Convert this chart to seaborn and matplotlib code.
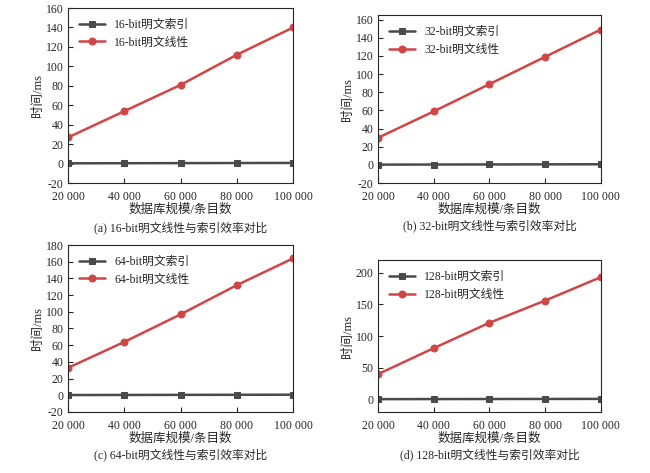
import matplotlib
matplotlib.use("Agg")
import matplotlib.pyplot as plt
import seaborn as sns
import pandas as pd

sizes = [20000, 40000, 60000, 80000, 100000]
size_labels = ["20 000", "40 000", "60 000", "80 000", "100 000"]
bits = ["16", "32", "64", "128"]
linear = {
    "16": [27, 54, 81, 112, 140],
    "32": [30, 59, 89, 119, 149],
    "64": [33, 64, 97, 132, 164],
    "128": [40, 81, 121, 156, 193],
}
index = {
    "16": [0.3, 0.4, 0.5, 0.6, 0.7],
    "32": [0.3, 0.4, 0.5, 0.6, 0.7],
    "64": [0.3, 0.4, 0.5, 0.6, 0.7],
    "128": [0.3, 0.4, 0.5, 0.6, 0.7],
}
ylims = {"16": (-20, 160, 20), "32": (-20, 165, 20), "64": (-20, 180, 20), "128": (-20, 220, 50)}
panel_tags = ["(a)", "(b)", "(c)", "(d)"]
positions = [
    [0.105, 0.613, 0.346, 0.370],
    [0.582, 0.613, 0.342, 0.355],
    [0.105, 0.129, 0.346, 0.353],
    [0.582, 0.129, 0.342, 0.321],
]

sns.set_style("ticks")
plt.rcParams['font.family'] = ['Liberation Serif', 'Noto Sans CJK SC']
plt.rcParams['xtick.direction'] = 'in'
plt.rcParams['ytick.direction'] = 'in'
plt.rcParams['axes.unicode_minus'] = False

fig = plt.figure(figsize=(6.5, 4.73), dpi=100)
for b, tag, pos in zip(bits, panel_tags, positions):
    ax = fig.add_axes(pos)
    df = pd.DataFrame({"size": sizes, "idx": index[b], "lin": linear[b]})
    sns.lineplot(data=df, x="size", y="idx", ax=ax, color="#4a4a4a", marker="s",
                 markersize=5, markeredgecolor="#4a4a4a", linewidth=1.8, label=f"{b}-bit明文索引")
    sns.lineplot(data=df, x="size", y="lin", ax=ax, color="#d04545", marker="o",
                 markersize=5, markeredgecolor="#d04545", linewidth=1.8, label=f"{b}-bit明文线性")
    lo, hi, step = ylims[b]
    ax.set_ylim(lo, hi)
    ax.set_yticks(range(lo if step == 20 else 0, int(hi) + 1, step))
    ax.set_xlim(20000, 100000)
    ax.set_xticks(sizes)
    ax.set_xticklabels(size_labels)
    ax.tick_params(labelsize=8.5)
    ax.tick_params(axis='x', pad=6)
    ax.set_xlabel("数据库规模/条目数", fontsize=9, labelpad=0)
    ax.set_ylabel("时间/ms", fontsize=9, labelpad=1)
    ax.legend(loc="upper left", frameon=False, fontsize=8.5, handlelength=2.2)
    ax.text(0.5, -0.22 if pos[3] > 0.33 else -0.24, f"{tag} {b}-bit明文线性与索引效率对比",
            transform=ax.transAxes, ha="center", va="top", fontsize=8.5)

fig.savefig("out.png", dpi=100)
